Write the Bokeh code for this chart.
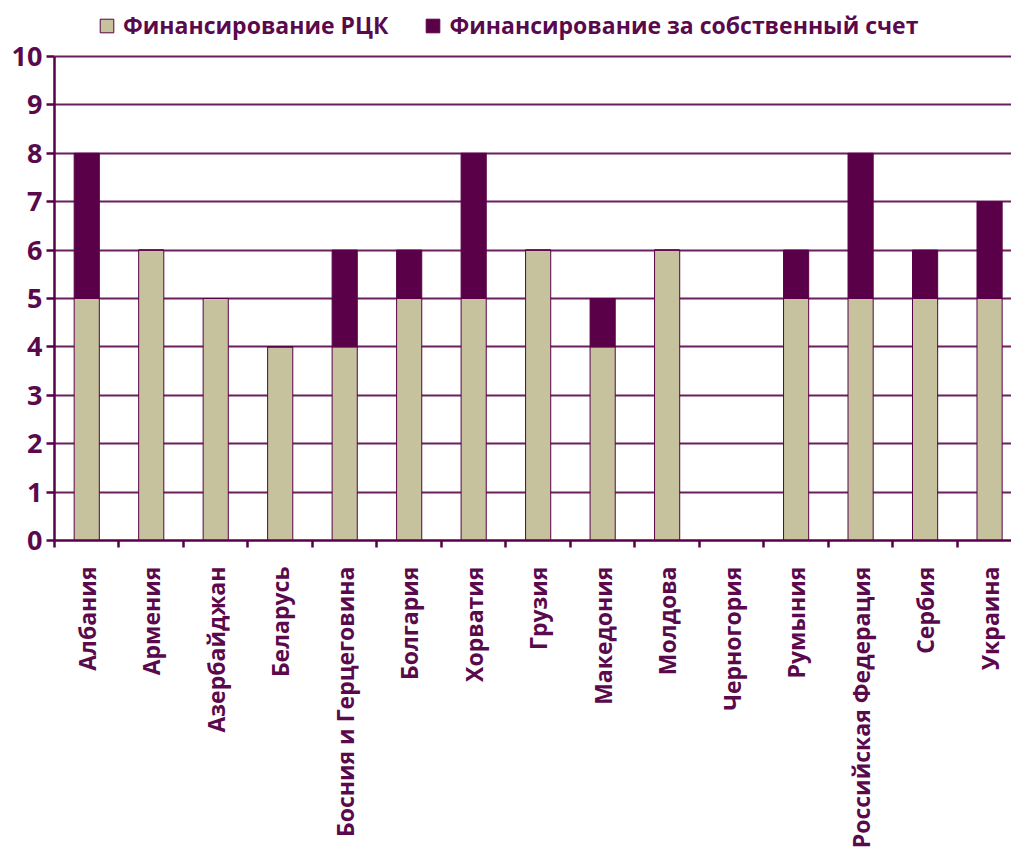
import math
from bokeh.plotting import figure
from bokeh.models import ColumnDataSource, Range1d, FixedTicker, Legend, LegendItem
from bokeh.embed import file_html
from bokeh.resources import INLINE

countries = ["Албания", "Армения", "Азербайджан", "Беларусь", "Босния и Герцеговина",
             "Болгария", "Хорватия", "Грузия", "Македония", "Молдова", "Черногория",
             "Румыния", "Российская Федерация", "Сербия", "Украина"]
rck = [5, 6, 5, 4, 4, 5, 5, 6, 4, 6, 0, 5, 5, 5, 5]
own = [3, 0, 0, 0, 2, 1, 3, 0, 1, 0, 0, 1, 3, 1, 2]
series = ["Финансирование РЦК", "Финансирование за собственный счет"]
y_ticks = list(range(0, 11))

PURPLE = "#5a0048"
BEIGE = "#c6c29e"
TXT = "#5a0a4c"
FONT = "Open Sans"

xs = [i + 0.5 for i in range(len(countries))]
src = ColumnDataSource(dict(x=xs, rck=rck, own=own))

# frame spans from page y=2 to y=540 (10 units = 484 px), legend sits above the "10" line
p = figure(width=1011, height=851, output_backend="svg", toolbar_location=None,
           x_range=Range1d(0, 14.84), y_range=Range1d(0, 11.116),
           min_border_left=54, min_border_right=0, min_border_top=2, min_border_bottom=10)
p.outline_line_color = None

r = p.vbar_stack(["rck", "own"], x="x", width=0.39, source=src,
                 color=[BEIGE, PURPLE], line_color=PURPLE, line_width=1)

legend = Legend(items=[LegendItem(label=series[0], renderers=[r[0]]),
                       LegendItem(label=series[1], renderers=[r[1]])],
                orientation="horizontal", location=(44, 499),
                label_text_font=FONT, label_text_font_style="bold",
                label_text_font_size="23px", label_text_color=TXT,
                glyph_width=17, glyph_height=17, label_standoff=8, spacing=36,
                border_line_color=None, background_fill_alpha=0,
                padding=0, margin=0)
p.add_layout(legend)

p.xaxis.ticker = FixedTicker(ticks=xs, minor_ticks=list(range(0, 16)))
p.xaxis.major_label_overrides = {x: c for x, c in zip(xs, countries)}
p.xaxis.major_label_orientation = math.pi / 2
p.xaxis.major_tick_out = 0
p.xaxis.major_tick_in = 0
p.xaxis.minor_tick_out = 7
p.xaxis.minor_tick_in = 0
p.xaxis.major_label_standoff = 19

p.yaxis.ticker = FixedTicker(ticks=y_ticks)
p.yaxis.bounds = (0, 10)
p.yaxis.major_tick_out = 8
p.yaxis.major_tick_in = 0
p.yaxis.minor_tick_out = 0
p.yaxis.major_label_standoff = 4

for ax in (p.xaxis, p.yaxis):
    ax.axis_line_color = PURPLE
    ax.axis_line_width = 2.5
    ax.major_tick_line_color = PURPLE
    ax.major_tick_line_width = 2.5
    ax.minor_tick_line_color = PURPLE
    ax.minor_tick_line_width = 2.5
    ax.major_label_text_font = FONT
    ax.major_label_text_font_style = "bold"
    ax.major_label_text_font_size = "23px"
    ax.major_label_text_color = TXT

p.yaxis.major_label_text_font_size = "27px"

p.xgrid.grid_line_color = None
p.ygrid.ticker = FixedTicker(ticks=y_ticks)
p.ygrid.grid_line_color = "#6b1f5c"
p.ygrid.grid_line_width = 1.8

open("out.html", "w").write(file_html(p, INLINE))
